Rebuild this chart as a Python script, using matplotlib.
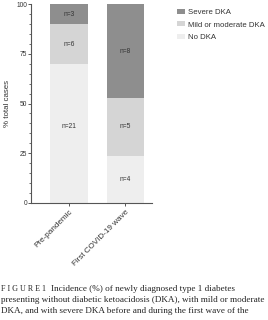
import numpy as np
import matplotlib
matplotlib.use('Agg')
import matplotlib.pyplot as plt
from matplotlib.ticker import MultipleLocator
from matplotlib.patches import Patch

plt.rcParams['font.family'] = ['Liberation Sans', 'DejaVu Sans']

groups = ['Pre-pandemic', 'First COVID-19 wave']
categories = ['No DKA', 'Mild or moderate DKA', 'Severe DKA']
counts = {
    'No DKA': [21, 4],
    'Mild or moderate DKA': [6, 5],
    'Severe DKA': [3, 8],
}
percent = {
    'No DKA': [70.0, 23.5],
    'Mild or moderate DKA': [20.0, 29.4],
    'Severe DKA': [10.0, 47.1],
}
label_y = {
    'No DKA': [38.5, 11.8],
    'Mild or moderate DKA': [80.0, 38.2],
    'Severe DKA': [95.0, 76.5],
}
colors = {
    'No DKA': '#eeeeee',
    'Mild or moderate DKA': '#d5d5d5',
    'Severe DKA': '#8e8e8e',
}

caption_head = 'F I G U R E 1'
caption_lines = [
    'Incidence (%) of newly diagnosed type 1 diabetes',
    'presenting without diabetic ketoacidosis (DKA), with mild or moderate',
    'DKA, and with severe DKA before and during the first wave of the',
]

fig = plt.figure(figsize=(2.68, 3.2), dpi=100)
ax = fig.add_axes([0.1157, 0.367, 0.451, 0.619])

x = np.arange(len(groups))
bottom = np.zeros(len(groups))
for cat in categories:
    vals = np.array(percent[cat])
    ax.bar(x, vals, width=0.665, bottom=bottom, color=colors[cat],
           edgecolor='none', zorder=2)
    for i in range(len(groups)):
        ax.text(x[i], label_y[cat][i], 'n=%d' % counts[cat][i],
                ha='center', va='center', fontsize=4.8, color='#333333')
    bottom += vals

ax.set_xlim(-0.667, 1.467)
ax.set_ylim(0, 100)
ax.set_xticks(x)
ax.set_xticklabels(groups, rotation=45, ha='right', rotation_mode='anchor',
                   fontsize=5.9, color='#333333')
ax.set_yticks([0, 25, 50, 75, 100])
ax.yaxis.set_minor_locator(MultipleLocator(5))
ax.tick_params(axis='y', labelsize=4.8, labelcolor='#333333', length=2.3,
               width=0.7, color='#555555', pad=0.6)
ax.tick_params(axis='y', which='minor', length=1.6, width=0.6, color='#555555')
ax.tick_params(axis='x', length=2.5, width=0.7, color='#555555', pad=1.5)
ax.set_ylabel('% total cases', fontsize=5.7, color='#333333', labelpad=4)

for s in ['top', 'right']:
    ax.spines[s].set_visible(False)
for s in ['left', 'bottom']:
    ax.spines[s].set_color('#555555')
    ax.spines[s].set_linewidth(0.8)

handles = [Patch(facecolor=colors[c], edgecolor='none') for c in reversed(categories)]
fig.legend(handles, list(reversed(categories)), loc='upper left',
           bbox_to_anchor=(0.635, 0.995), frameon=False, fontsize=5.6,
           handlelength=1.0, handleheight=0.6, handletextpad=0.35,
           labelspacing=0.72, labelcolor='#333333')

serif = ['Liberation Serif', 'DejaVu Serif']
fig.text(0.004, 1 - 289 / 320, caption_head, fontsize=5.8, family=serif,
         va='center', ha='left', color='#222222')
fig.text(51 / 268, 1 - 289 / 320, caption_lines[0],
         fontsize=6.6, family=serif, va='center', ha='left', color='#222222')
for k, line in enumerate(caption_lines[1:]):
    fig.text(0.004, 1 - (300 + 11 * k) / 320, line,
             fontsize=6.6, family=serif, va='center', ha='left', color='#222222')

fig.savefig('out.png', dpi=100)
